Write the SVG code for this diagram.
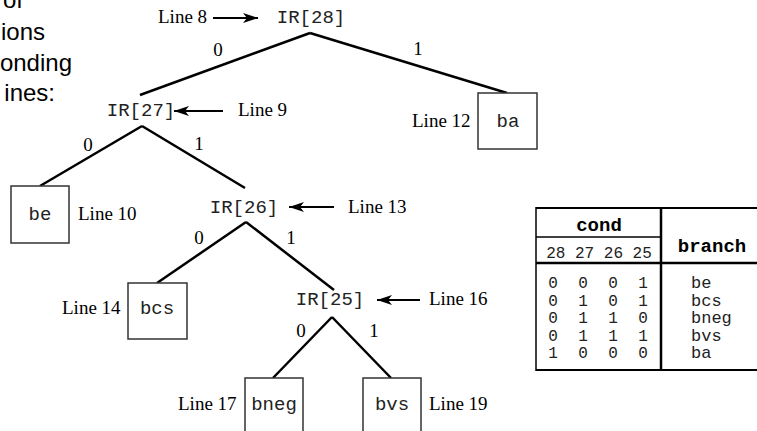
<svg xmlns="http://www.w3.org/2000/svg" width="757" height="431" viewBox="0 0 757 431">
<style>
.side{font-family:"Liberation Sans",Arial,sans-serif;font-size:24px;fill:#000;text-anchor:end}
.lbl{font-family:"Liberation Serif","Times New Roman",serif;font-size:19px;fill:#000}
.bit{font-family:"Liberation Serif","Times New Roman",serif;font-size:19px;fill:#000;text-anchor:middle}
.ir{font-family:"Liberation Mono","Courier New",monospace;font-size:19px;fill:#222;text-anchor:middle}
.box{fill:#fff;stroke:#333;stroke-width:1.5}
.edge{stroke:#000;stroke-width:2.5;fill:none}
.arr{stroke:#000;stroke-width:2;fill:none;marker-end:url(#ah)}
.tl{stroke:#000;fill:none}
.th{font-family:"Liberation Mono","Courier New",monospace;font-size:19px;font-weight:bold;fill:#000;text-anchor:middle}
.td{font-family:"Liberation Mono","Courier New",monospace;font-size:16px;fill:#222;text-anchor:middle}
.tb{font-family:"Liberation Mono","Courier New",monospace;font-size:17px;fill:#222}
</style>
<defs>
<marker id="ah" markerUnits="userSpaceOnUse" viewBox="0 0 15 10" refX="15" refY="5" markerWidth="15" markerHeight="10" orient="auto">
<path d="M0,0 L15,5 L0,10 L4,5 Z" fill="#000"/>
</marker>
</defs>
<rect width="757" height="431" fill="#fff"/>
<g id="caption">
<text class="side" x="23" y="8">of</text>
<text class="side" x="45" y="40">ions</text>
<text class="side" x="72" y="71">onding</text>
<text class="side" x="55" y="101">ines:</text>
</g>
<g id="connectors">
<line class="edge" x1="310" y1="33" x2="140" y2="95"/>
<line class="edge" x1="310" y1="33" x2="507" y2="93"/>
<line class="edge" x1="142" y1="126" x2="40" y2="186"/>
<line class="edge" x1="142" y1="126" x2="245" y2="188"/>
<line class="edge" x1="246" y1="222" x2="157" y2="283"/>
<line class="edge" x1="246" y1="222" x2="334" y2="290"/>
<line class="edge" x1="332" y1="317" x2="273" y2="378"/>
<line class="edge" x1="332" y1="317" x2="391" y2="378"/>
<line class="arr" x1="213" y1="18" x2="258" y2="18"/>
<line class="arr" x1="223" y1="111" x2="174" y2="111"/>
<line class="arr" x1="334" y1="207" x2="289" y2="207"/>
<line class="arr" x1="420" y1="300" x2="377" y2="300"/>
<text class="bit" x="218" y="56">0</text>
<text class="bit" x="418" y="55">1</text>
<text class="bit" x="88" y="151">0</text>
<text class="bit" x="199" y="150">1</text>
<text class="bit" x="199" y="244">0</text>
<text class="bit" x="291" y="244">1</text>
<text class="bit" x="301" y="337">0</text>
<text class="bit" x="374" y="337">1</text>
</g>
<g id="ir28">
<text class="lbl" x="158" y="23">Line 8</text>
<text class="ir" x="311" y="23">IR[28]</text>
</g>
<g id="ir27">
<text class="ir" x="141" y="116">IR[27]</text>
<text class="lbl" x="238" y="116">Line 9</text>
</g>
<g id="ba">
<rect class="box" x="478" y="93" width="59" height="56"/>
<text class="ir" x="508" y="127">ba</text>
<text class="lbl" x="412" y="127">Line 12</text>
</g>
<g id="be">
<rect class="box" x="11" y="186" width="58" height="57"/>
<text class="ir" x="40" y="220">be</text>
<text class="lbl" x="78" y="220">Line 10</text>
</g>
<g id="ir26">
<text class="ir" x="244" y="213">IR[26]</text>
<text class="lbl" x="348" y="213">Line 13</text>
</g>
<g id="bcs">
<rect class="box" x="128" y="283" width="59" height="56"/>
<text class="ir" x="157" y="314">bcs</text>
<text class="lbl" x="62" y="314">Line 14</text>
</g>
<g id="ir25">
<text class="ir" x="330" y="305">IR[25]</text>
<text class="lbl" x="429" y="305">Line 16</text>
</g>
<g id="bneg">
<rect class="box" x="245" y="378" width="58" height="60"/>
<text class="ir" x="274" y="410">bneg</text>
<text class="lbl" x="178" y="410">Line 17</text>
</g>
<g id="bvs">
<rect class="box" x="363" y="378" width="58" height="60"/>
<text class="ir" x="392" y="410">bvs</text>
<text class="lbl" x="429" y="410">Line 19</text>
</g>
<g id="table">
<line class="tl" x1="536" y1="208" x2="760" y2="208" stroke-width="2"/>
<line class="tl" x1="536" y1="370" x2="760" y2="370" stroke-width="2"/>
<line class="tl" x1="536" y1="207" x2="536" y2="371" stroke-width="1.5"/>
<line class="tl" x1="661" y1="207" x2="661" y2="371" stroke-width="2.5"/>
<line class="tl" x1="536" y1="237" x2="661" y2="237" stroke-width="1.5"/>
<line class="tl" x1="536" y1="263" x2="760" y2="263" stroke-width="2.5"/>
<text class="th" x="599" y="231">cond</text>
<text class="td" x="599" y="258">28 27 26 25</text>
<text class="th" x="712" y="252">branch</text>
<text class="td" x="553 583 613 643" y="288">0001</text>
<text class="td" x="553 583 613 643" y="305.5">0101</text>
<text class="td" x="553 583 613 643" y="323">0110</text>
<text class="td" x="553 583 613 643" y="340.5">0111</text>
<text class="td" x="553 583 613 643" y="358">1000</text>
<text class="tb" x="691" y="288">be</text>
<text class="tb" x="691" y="305.5">bcs</text>
<text class="tb" x="691" y="323">bneg</text>
<text class="tb" x="691" y="340.5">bvs</text>
<text class="tb" x="691" y="358">ba</text>
</g>
</svg>
